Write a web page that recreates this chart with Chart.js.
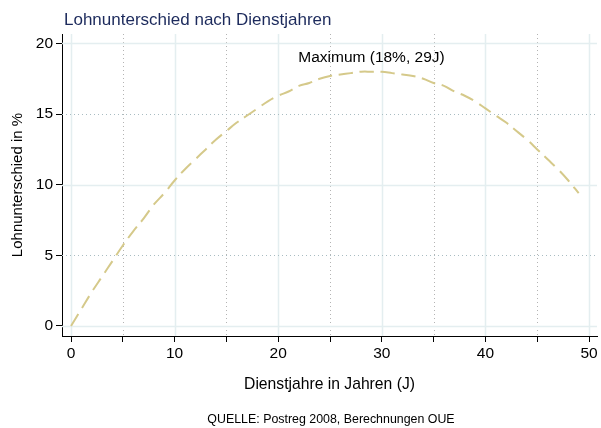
<!DOCTYPE html>
<html>
<head>
<meta charset="utf-8">
<script src="https://cdn.jsdelivr.net/npm/chart.js@4"></script>
<style>
  html, body { margin: 0; padding: 0; background: #fff; }
  #wrap { width: 601px; height: 428px; }
</style>
</head>
<body>
<div id="wrap"><canvas id="chart" width="601" height="428"></canvas></div>
<script>
// Werte
const years = [0, 1, 2, 3, 4, 5, 6, 7, 8, 9, 10, 11, 12, 13, 14, 15, 16, 17, 18, 19, 20, 21, 22, 23, 24,
  25, 26, 27, 28, 29, 30, 31, 32, 33, 34, 35, 36, 37, 38, 39, 40, 41, 42, 43, 44, 45, 46, 47, 48, 49];
const wageGap = [0.0, 1.2, 2.4, 3.5, 4.6, 5.7, 6.7, 7.6, 8.6, 9.4, 10.3, 11.1, 11.8, 12.5, 13.2, 13.8, 14.4,
  14.9, 15.4, 15.9, 16.3, 16.6, 17.0, 17.2, 17.5, 17.7, 17.8, 17.9, 18.0, 18.0, 18.0, 17.9, 17.8, 17.7, 17.5,
  17.2, 17.0, 16.6, 16.3, 15.9, 15.4, 14.9, 14.4, 13.8, 13.2, 12.5, 11.8, 11.1, 10.3, 9.4];
const xTicks = [0, 5, 10, 15, 20, 25, 30, 35, 40, 45, 50];
const yTicks = [0, 5, 10, 15, 20];
const maxPoint = { x: 29, y: 19, label: "Maximum (18%, 29J)" };

const FONT = "Arial, 'Liberation Sans', Helvetica, sans-serif";
const lineColor = "rgb(213,201,138)";

const gridPlugin = {
  id: "stataGrid",
  beforeDatasetsDraw(chart) {
    const { ctx, chartArea: a, scales } = chart;
    ctx.save();
    ctx.beginPath();
    ctx.rect(a.left, a.top, a.right - a.left, a.bottom - a.top);
    ctx.clip();
    const line = (x1, y1, x2, y2, major, horiz) => {
      ctx.beginPath();
      if (major) {
        ctx.strokeStyle = "#e4eef0";
        ctx.lineWidth = 1.5;
        ctx.setLineDash([]);
      } else {
        ctx.strokeStyle = horiz ? "#a9bcc2" : "#b4b4b4";
        ctx.lineWidth = 1;
        ctx.setLineDash([1, 3]);
      }
      ctx.moveTo(x1, y1);
      ctx.lineTo(x2, y2);
      ctx.stroke();
    };
    xTicks.forEach((v) => {
      const x = Math.round(scales.x.getPixelForValue(v)) + 0.5;
      line(x, a.top, x, a.bottom, v % 10 === 0, false);
    });
    yTicks.forEach((v) => {
      const y = Math.round(scales.y.getPixelForValue(v)) + 0.5;
      line(a.left, y, a.right, y, v % 10 === 0, true);
    });
    ctx.restore();
  },
  afterDraw(chart) {
    const { ctx, chartArea: a, scales } = chart;
    ctx.save();
    ctx.textBaseline = "middle";

    ctx.fillStyle = "#1c2a5c";
    ctx.font = "17px " + FONT;
    ctx.textAlign = "left";
    ctx.fillText("Lohnunterschied nach Dienstjahren", 64, 20);

    ctx.fillStyle = "#000";
    ctx.font = "15.5px " + FONT;
    ctx.textAlign = "center";
    ctx.fillText(maxPoint.label, scales.x.getPixelForValue(maxPoint.x), scales.y.getPixelForValue(maxPoint.y));

    ctx.font = "15.7px " + FONT;
    ctx.fillText("Dienstjahre in Jahren (J)", (a.left + a.right) / 2, 385);

    ctx.font = "12.4px " + FONT;
    ctx.fillText("QUELLE: Postreg 2008, Berechnungen OUE", 331, 420);

    ctx.font = "15px " + FONT;
    ctx.translate(18, (a.top + a.bottom) / 2);
    ctx.rotate(-Math.PI / 2);
    ctx.fillText("Lohnunterschied in %", 0, 0);
    ctx.restore();
  },
};

new Chart(document.getElementById("chart"), {
  type: "line",
  data: {
    labels: years,
    datasets: [
      {
        data: years.map((x, i) => ({ x, y: wageGap[i] })),
        borderColor: lineColor,
        borderWidth: 2,
        borderDash: [14, 7],
        pointRadius: 0,
        tension: 0.4,
        fill: false,
      },
    ],
  },
  options: {
    responsive: false,
    animation: false,
    layout: { padding: { left: 0, right: 4, top: 34, bottom: 62 } },
    plugins: { legend: { display: false }, tooltip: { enabled: false } },
    scales: {
      x: {
        type: "linear",
        min: -0.87,
        max: 50.77,
        afterBuildTicks: (s) => { s.ticks = xTicks.map((v) => ({ value: v })); },
        afterFit: (s) => { s.height = 30; },
        ticks: {
          color: "#000",
          font: { family: FONT, size: 15.5 },
          padding: 2,
          maxRotation: 0,
          autoSkip: false,
          callback: (v) => (v % 10 === 0 ? String(v) : ""),
        },
        grid: { drawOnChartArea: false, tickLength: 6, tickColor: "#000", tickWidth: 1 },
        border: { display: true, color: "#000", width: 1 },
      },
      y: {
        min: -0.71,
        max: 20.67,
        afterBuildTicks: (s) => { s.ticks = yTicks.map((v) => ({ value: v })); },
        afterFit: (s) => { s.width = 62; },
        ticks: {
          color: "#000",
          font: { family: FONT, size: 15.5 },
          padding: 3,
          autoSkip: false,
        },
        grid: { drawOnChartArea: false, tickLength: 6, tickColor: "#000", tickWidth: 1 },
        border: { display: true, color: "#000", width: 1 },
      },
    },
  },
  plugins: [gridPlugin],
});
</script>
</body>
</html>
